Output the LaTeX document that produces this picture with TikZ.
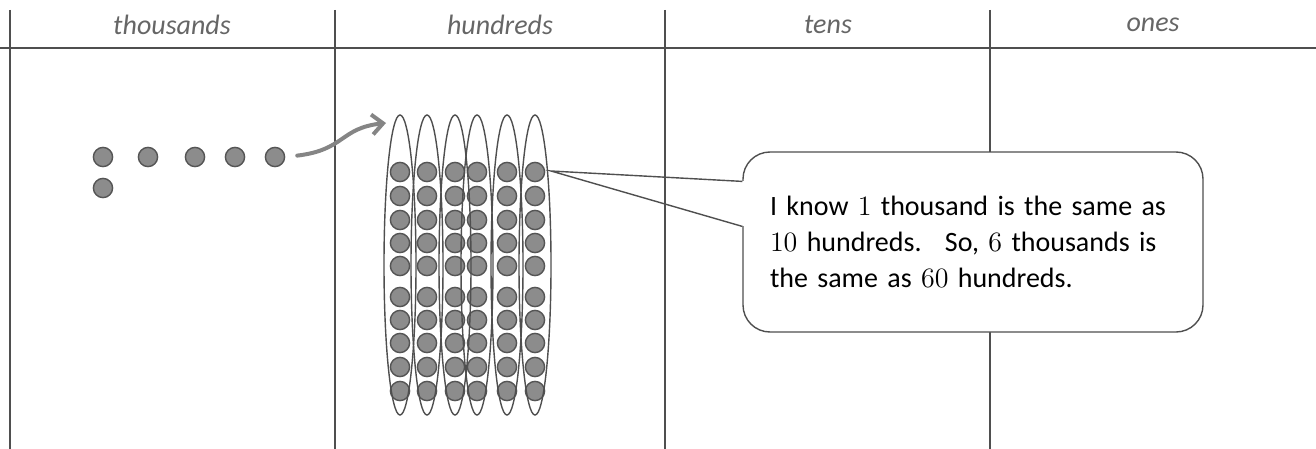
\documentclass[tikz,border=0pt]{standalone}
\usepackage{fontspec}
\usepackage{tikz}
\usepackage{xcolor}
\usetikzlibrary{arrows.meta,shapes.geometric}
\newfontfamily\calibrifont{Carlito}
\newcommand\cnum[1]{{\rmfamily #1}}
\definecolor{gridgray}{HTML}{4F4F4F}
\definecolor{headgray}{HTML}{666666}
\definecolor{dotfill}{HTML}{8C8C8C}
\definecolor{dotedge}{HTML}{555555}
\definecolor{arrowgray}{HTML}{858585}
\tikzset{
    grid-line/.style = {draw=gridgray, line width=0.9pt},
    header-label/.style = {text=headgray, font=\calibrifont\itshape\fontsize{14}{16}\selectfont},
    counter/.style = {circle, draw=dotedge, fill=dotfill, line width=0.7pt, minimum size=9.6pt, inner sep=0pt},
    bundle/.style = {ellipse, draw=gridgray, line width=0.7pt, minimum width=16pt, minimum height=150pt, inner sep=0pt},
    move-arrow/.style = {draw=arrowgray, line width=2pt, line cap=round, -{Straight Barb[length=5.5pt,width=10pt,line width=2pt]}},
    speech-box/.style = {draw=gridgray, fill=white, line width=0.7pt, rectangle, rounded corners=13.5pt, minimum width=230pt, minimum height=90pt, text width=203pt, align=left, font=\calibrifont\fontsize{14}{18}\selectfont},
}
\begin{document}
\begin{tikzpicture}[x=0.5pt, y=-0.5pt]
\useasboundingbox (0,0) rectangle (1316,449);
% place value chart
\draw[grid-line] (0,48) -- (1316,48);
\foreach \x in {10,335,665,990}
    \draw[grid-line] (\x,10) -- (\x,449);
\node[header-label] (thousands) at (172,25) {thousands};
\node[header-label] (hundreds) at (500,25) {hundreds};
\node[header-label] (tens) at (828,25) {tens};
\node[header-label] (ones) at (1153,25) {ones};
% thousands
\foreach \x [count=\i] in {103,148,195,235,275}
    \node[counter] (t\i) at (\x,157) {};
\node[counter] (t6) at (103,188) {};
% hundreds
\foreach \x [count=\c] in {400,427,455,477,507,535} {
    \foreach \y [count=\r] in {172,196,220,243,266,297,320,343,367,391}
        \node[counter] (h\c-\r) at (\x,\y) {};
}
\foreach \x [count=\c] in {400,427,455,477,507,535}
    \node[bundle] (b\c) at (\x,265) {};
\coordinate (arrow-tip) at (386,123);
\draw[move-arrow, shorten <=6pt] (t5.east) .. controls (345,150) and (340,128) .. (arrow-tip);
% speech bubble
\node[speech-box] (speech) at (973,242) {I know \cnum{1} thousand is the same as\\\cnum{10} hundreds.~ So, \cnum{6} thousands is\\the same as \cnum{60} hundreds.};
\coordinate (pointer-tip) at (551,171);
\coordinate (pointer-top) at ([yshift=30.3pt]speech.west);
\coordinate (pointer-bottom) at ([yshift=7.8pt]speech.west);
\fill[white] ([xshift=-1pt]pointer-top) rectangle ([xshift=1pt]pointer-bottom);
\draw[draw=gridgray, line width=0.7pt] (pointer-top) -- (pointer-tip) -- (pointer-bottom);
\end{tikzpicture}
\end{document}
